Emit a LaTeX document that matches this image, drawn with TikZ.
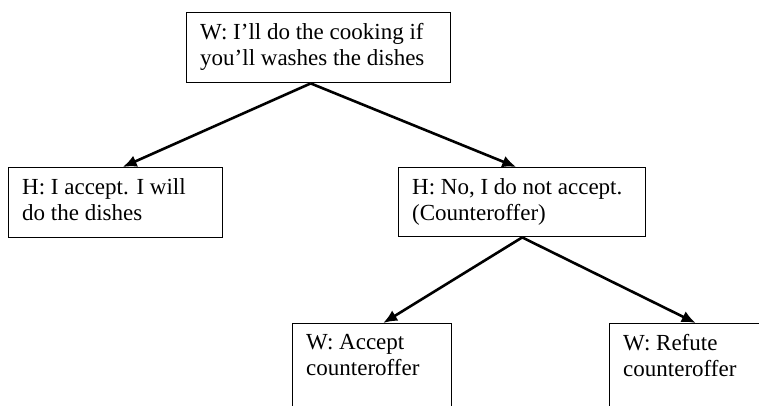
\documentclass[tikz,border=0pt]{standalone}
\usepackage{fontspec}
\setmainfont{Liberation Serif}
\usetikzlibrary{arrows.meta}

\begin{document}
\begin{tikzpicture}[x=1pt, y=-1pt,
		box/.style={draw, line width=1.4pt, anchor=north west, inner sep=0pt},
		txt/.style={anchor=north west, align=left, inner sep=0pt, xshift=14pt, yshift=-11pt, font=\fontsize{23}{26}\selectfont},
		arr/.style={line width=2.6pt, -{Latex[length=14pt, width=12pt]}}]
	\useasboundingbox (0,0) rectangle (759,405);
	\clip (0,0) rectangle (759,405);
	\node[box, minimum width=264pt, minimum height=70pt, label={[txt]north west:{W: I’ll do the cooking if\\you’ll washes the dishes}}] (wife) at (186,12) {};
	\node[box, minimum width=214pt, minimum height=70pt, label={[txt]north west:{H: I accept. I will\\do the dishes}}] (hacc) at (8,167) {};
	\node[box, minimum width=247pt, minimum height=69pt, label={[txt]north west:{H: No, I do not accept.\\(Counteroffer)}}] (hno) at (398,167) {};
	\node[box, minimum width=159pt, minimum height=120pt, label={[txt]north west:{W: Accept\\counteroffer}}] (accept) at (292,323) {};
	\node[box, minimum width=200pt, minimum height=120pt, label={[txt]north west:{W: Refute\\counteroffer}}] (refute) at (609,323) {};
	\draw[arr] ([xshift=-8pt]wife.south) -- ([xshift=7pt]hacc.north);
	\draw[arr] ([xshift=-8pt]wife.south) -- ([xshift=-6pt]hno.north);
	\draw[arr] (hno.south) -- ([xshift=11pt]accept.north);
	\draw[arr] (hno.south) -- ([xshift=-14pt]refute.north);
\end{tikzpicture}
\end{document}
